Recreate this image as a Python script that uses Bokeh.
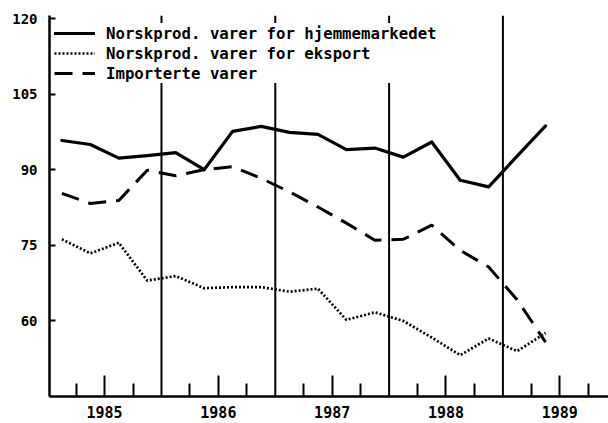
from bokeh.plotting import figure
from bokeh.models import Range1d, FixedTicker, Legend, LegendItem
from bokeh.embed import file_html
from bokeh.resources import INLINE

# Quarterly observations (mid-quarter positions), 1985 Q1 - 1989 Q2
quarters_x = [1985.125, 1985.375, 1985.625, 1985.875,
              1986.125, 1986.375, 1986.625, 1986.875,
              1987.125, 1987.375, 1987.625, 1987.875,
              1988.125, 1988.375, 1988.625, 1988.875,
              1989.125, 1989.375]

hjemmemarked = [95.8, 95.0, 92.3, 92.8, 93.4, 90.0, 97.6, 98.6, 97.4,
                97.0, 94.0, 94.3, 92.5, 95.5, 87.9, 86.6, 92.7, 98.7]
eksport = [76.2, 73.4, 75.5, 68.0, 68.9, 66.5, 66.7, 66.7, 65.8,
           66.4, 60.2, 61.7, 60.0, 56.7, 53.2, 56.5, 54.0, 57.6]
importerte = [85.3, 83.3, 83.9, 89.9, 88.8, 90.0, 90.6, 88.3, 85.6,
              82.6, 79.4, 76.0, 76.2, 79.0, 74.0, 70.7, 64.2, 55.8]

series_labels = ["Norskprod. varer for hjemmemarkedet",
                 "Norskprod. varer for eksport",
                 "Importerte varer"]

year_bounds = [1986, 1987, 1988, 1989]
year_label_pos = [1985.5, 1986.5, 1987.5, 1988.5, 1989.5]
year_labels = ["1985", "1986", "1987", "1988", "1989"]
quarter_ticks = [1985.25, 1985.75, 1986.25, 1986.75, 1987.25, 1987.75,
                 1988.25, 1988.75, 1989.25, 1989.75]
y_ticks = [60, 75, 90, 105, 120]

Y_MIN, Y_MAX = 45.0, 120.6
FONT = "DejaVu Sans Mono"

p = figure(width=608, height=423,
           x_range=Range1d(1985.016, 1989.928),
           y_range=Range1d(Y_MIN, Y_MAX),
           output_backend="svg", toolbar_location=None,
           min_border_left=49, min_border_right=0,
           min_border_top=15, min_border_bottom=27,
           background_fill_color="white", border_fill_color="white")
p.outline_line_color = None
p.xgrid.visible = False
p.ygrid.visible = False

# year separators
p.segment(x0=year_bounds, y0=[Y_MIN] * len(year_bounds),
          x1=year_bounds, y1=[Y_MAX] * len(year_bounds),
          line_color="black", line_width=2)

r1 = p.line(quarters_x, hjemmemarked, line_color="black", line_width=3.2,
            line_join="round", line_cap="round")
r2 = p.line(quarters_x, eksport, line_color="black", line_width=2.7,
            line_dash="2 2")
r3 = p.line(quarters_x, importerte, line_color="black", line_width=3,
            line_dash="18 10")

legend = Legend(items=[LegendItem(label=series_labels[0], renderers=[r1]),
                       LegendItem(label=series_labels[1], renderers=[r2]),
                       LegendItem(label=series_labels[2], renderers=[r3])],
                location=(5, 313), padding=0, margin=0, spacing=0,
                label_height=20, glyph_height=20, glyph_width=41,
                label_standoff=11,
                background_fill_color="white", background_fill_alpha=1.0,
                border_line_color=None,
                label_text_font=FONT, label_text_font_style="bold",
                label_text_font_size="15.7px", label_text_color="black")
p.add_layout(legend)

# x axis
xa = p.xaxis[0]
xa.ticker = FixedTicker(ticks=year_label_pos, minor_ticks=quarter_ticks)
xa.major_label_overrides = dict(zip(year_label_pos, year_labels))
xa.axis_line_width = 2.5
xa.axis_line_color = "black"
xa.major_tick_in = 21
xa.major_tick_out = 0
xa.minor_tick_in = 13
xa.minor_tick_out = 0
xa.major_tick_line_width = 2
xa.minor_tick_line_width = 2
xa.major_tick_line_color = "black"
xa.minor_tick_line_color = "black"
xa.major_label_standoff = 9
xa.major_label_text_font = FONT
xa.major_label_text_font_style = "bold"
xa.major_label_text_font_size = "15px"
xa.major_label_text_color = "black"

# y axis
ya = p.yaxis[0]
ya.ticker = FixedTicker(ticks=y_ticks, minor_ticks=[])
ya.axis_line_width = 2.5
ya.axis_line_color = "black"
ya.major_tick_in = 6
ya.major_tick_out = 0
ya.major_tick_line_width = 2
ya.major_tick_line_color = "black"
ya.minor_tick_line_color = None
ya.major_label_standoff = 12
ya.major_label_text_font = FONT
ya.major_label_text_font_style = "bold"
ya.major_label_text_font_size = "14px"
ya.major_label_text_color = "black"

open("out.html", "w").write(file_html(p, INLINE))
